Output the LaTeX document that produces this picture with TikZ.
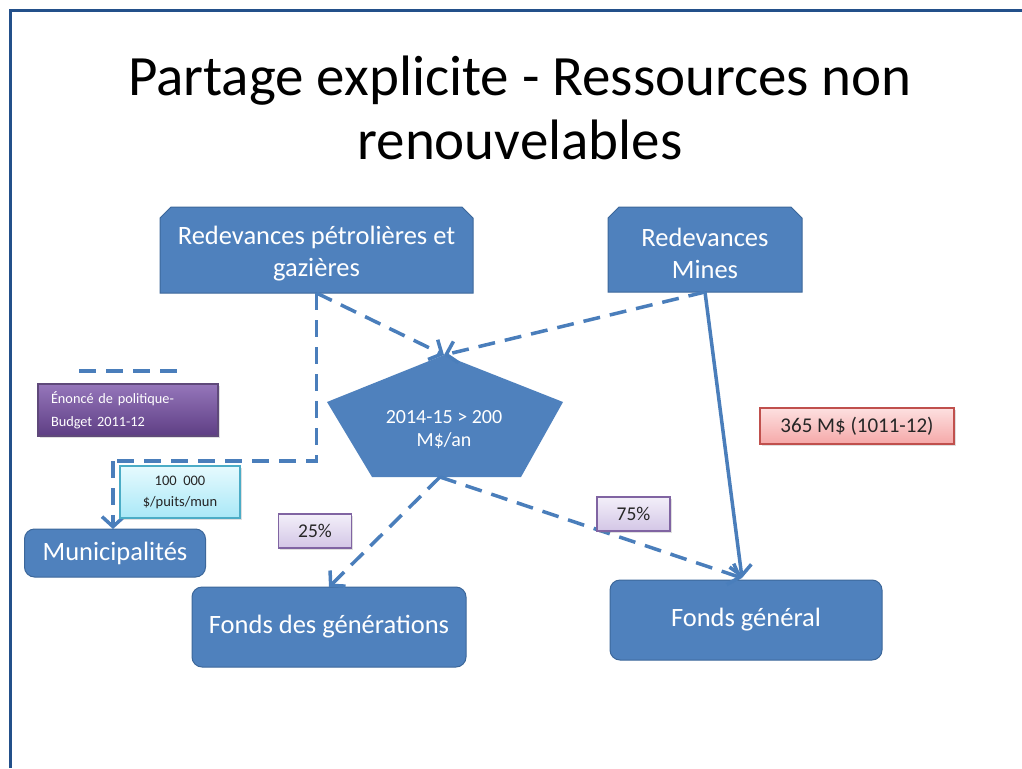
\documentclass[tikz,border=0pt]{standalone}
\usepackage{fontspec}
\setmainfont{Carlito}
\usetikzlibrary{arrows.meta,calc,shadows}

\definecolor{boxblue}{HTML}{4F81BD}
\definecolor{boxedge}{HTML}{3C679A}
\definecolor{linkblue}{HTML}{4A7EBB}
\definecolor{framecol}{HTML}{23508A}
\definecolor{purpletop}{HTML}{9576BA}
\definecolor{purplebot}{HTML}{5E3E84}
\definecolor{purpleedge}{HTML}{5F497A}
\definecolor{cyantop}{HTML}{E6FAFE}
\definecolor{cyanbot}{HTML}{A9E8F7}
\definecolor{cyanedge}{HTML}{4BACC6}
\definecolor{lavtop}{HTML}{F3EFF9}
\definecolor{lavbot}{HTML}{D3C6E6}
\definecolor{lavedge}{HTML}{8064A2}
\definecolor{redtop}{HTML}{FDE0E0}
\definecolor{redbot}{HTML}{F5A8A8}
\definecolor{rededge}{HTML}{C0504D}

\begin{document}
\begin{tikzpicture}[x=1pt,y=-1pt,
  every node/.style={inner sep=0pt, outer sep=0pt},
  slot/.style={rectangle},
  sourceshape/.style={fill=boxblue, draw=boxedge, line width=1pt},
  boxtext/.style={text=white, align=center, font=\fontsize{26.5}{32}\selectfont},
  fundbox/.style={rectangle, rounded corners=10pt, fill=boxblue, draw=boxedge, line width=1pt,
    text=white, align=center, font=\fontsize{26.5}{32}\selectfont},
  tag/.style={rectangle, line width=1.2pt, text=black!85, align=center,
    drop shadow={opacity=0.25, shadow xshift=1.5pt, shadow yshift=-1.5pt}},
  link/.style={draw=linkblue, line width=3.5pt},
  dashlink/.style={link, dash pattern=on 17pt off 10pt},
  tip/.style={-{Straight Barb[length=10pt,width=22pt]}}
]
\useasboundingbox (0,0) rectangle (1022,768);
\fill[white] (0,0) rectangle (1022,768);

% slide frame
\draw[framecol, line width=3pt] (10,768) -- (10,11) -- (1022,11);

% title
\node[align=center, font=\fontsize{57}{64}\selectfont] (title) at (520,108)
  {Partage explicite - Ressources non\\renouvelables};

% revenue sources: boxes with both upper corners cut off
\node[slot, minimum width=313pt, minimum height=86pt] (rp) at (316.5,250) {};
\node[slot, minimum width=194pt, minimum height=85pt] (rm) at (705,249.5) {};
\foreach \b in {rp,rm}{
  \filldraw[sourceshape] (\b.south west) -- ($(\b.north west)+(0,11)$) -- ($(\b.north west)+(11,0)$)
    -- ($(\b.north east)+(-11,0)$) -- ($(\b.north east)+(0,11)$) -- (\b.south east) -- cycle;
}
\node[boxtext] (rptext) at ([yshift=-4pt]rp.center) {Redevances pétrolières et\\gazières};
\node[boxtext] (rmtext) at ([yshift=-4pt]rm.center) {Redevances\\Mines};

% pentagon of the expected yearly amount
\coordinate (pt) at (444,355);
\coordinate (pl) at (327,402);
\coordinate (pr) at (563,402);
\coordinate (pbr) at (521,477);
\coordinate (pbl) at (372,477);
\coordinate (pb) at (440,477);
\fill[boxblue] (pt) -- (pr) -- (pbr) -- (pbl) -- (pl) -- cycle;
\node[text=white, align=center, font=\fontsize{20}{23}\selectfont] (amount) at (444,430)
  {2014-15 > 200\\M\$/an};

% destination funds
\node[fundbox, minimum width=181pt, minimum height=48pt] (muni) at (115,553) {Municipalités};
\node[fundbox, minimum width=274pt, minimum height=80pt] (fgen) at (329,627) {Fonds des générations};
\node[fundbox, minimum width=272pt, minimum height=80pt] (fg) at (746,620) {Fonds général};

% connectors
\coordinate (bend) at (113,461);
\coordinate (fgtop) at (742,578);
\draw[dashlink] (rp.south) |- (bend);
\draw[dashlink, tip] (bend) -- (bend |- muni.north);
\draw[dashlink, tip] (rp.south) -- (pt);
\draw[dashlink, tip] (rm.south) -- (pt);
\draw[link, tip] (rm.south) -- (fgtop);
\draw[dashlink, tip] (pb) -- (fgen.north);
\draw[dashlink, tip] (pb) -- (fgtop);

% loose dashed stroke above the policy label
\coordinate (s1) at (79,371);
\coordinate (s2) at (186,371);
\draw[dashlink] (s1) -- (s2);

% labels
\node[tag, top color=purpletop, bottom color=purplebot, draw=purpleedge, text=white,
  minimum width=180pt, minimum height=52pt, align=left, font=\fontsize{14.3}{23}\selectfont,
  text width=154pt] (policy) at (128,410)
  {Énoncé de politique-\\Budget 2011-12};
\node[tag, top color=cyantop, bottom color=cyanbot, draw=cyanedge,
  minimum width=120pt, minimum height=52pt, font=\fontsize{14.5}{21}\selectfont] (perwell) at (180,492)
  {100\hspace{0.45em}000\\\$/puits/mun};
\node[tag, top color=lavtop, bottom color=lavbot, draw=lavedge,
  minimum width=73pt, minimum height=34pt, font=\fontsize{19.5}{22}\selectfont] (p25) at (315,531) {25\%};
\node[tag, top color=lavtop, bottom color=lavbot, draw=lavedge,
  minimum width=73pt, minimum height=34pt, font=\fontsize{19.5}{22}\selectfont] (p75) at (633.5,514) {75\%};
\node[tag, top color=redtop, bottom color=redbot, draw=rededge,
  minimum width=194pt, minimum height=36pt, font=\fontsize{21}{24}\selectfont] (mines365) at (857,426)
  {365 M\$ (1011-12)};
\end{tikzpicture}
\end{document}
